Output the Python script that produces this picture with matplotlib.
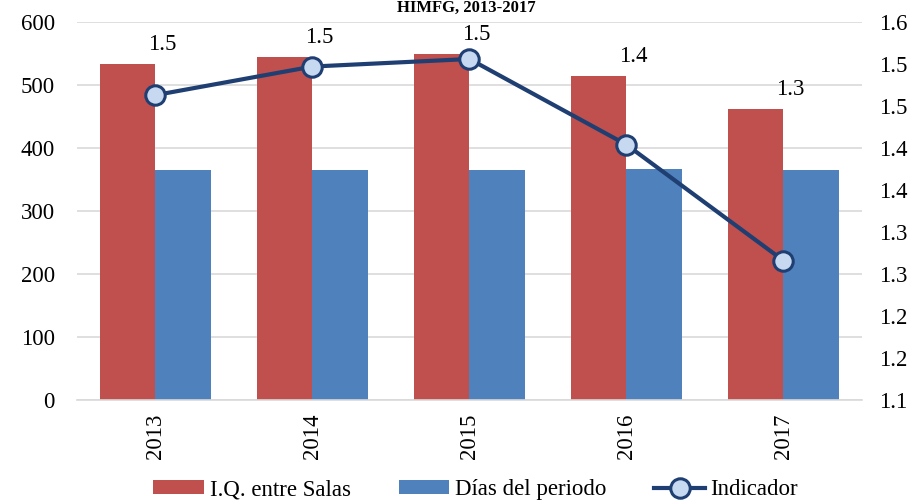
import matplotlib.pyplot as plt
import numpy as np

plt.rcParams['font.family'] = ['Liberation Serif', 'DejaVu Serif']

years = ['2013', '2014', '2015', '2016', '2017']
iq_salas = [533, 545, 549, 514, 462]
dias = [365, 365, 365, 366, 365]
indicador = [1.463, 1.497, 1.506, 1.404, 1.266]
labels = ['1.5', '1.5', '1.5', '1.4', '1.3']

red = '#C0504D'
blue = '#4F81BD'
navy = '#1F3F73'
grid = '#D9D9D9'
fs = 16.5


def solve():
    fig = plt.figure(figsize=(9.15, 5.01), dpi=100)
    ax = fig.add_axes([0.084, 0.2016, 0.858, 0.7544])
    x = np.arange(len(years))
    w = 0.355

    # bars
    b1 = ax.bar(x - w / 2, iq_salas, w, color=red, label='I.Q. entre Salas', zorder=2)
    b2 = ax.bar(x + w / 2, dias, w, color=blue, label='Días del periodo', zorder=2)
    ax.set_ylim(0, 600)
    ax.set_yticks(range(0, 601, 100))
    ax.set_xlim(-0.5, len(years) - 0.5)
    ax.set_xticks(x)
    ax.set_xticklabels(years, rotation=90)
    ax.yaxis.grid(True, color=grid, linewidth=1.2, zorder=0)
    for s in ['top', 'left', 'right']:
        ax.spines[s].set_visible(False)
    ax.spines['bottom'].set_color(grid)
    ax.spines['bottom'].set_linewidth(1.2)
    ax.tick_params(length=0, labelsize=fs, pad=16)
    ax.tick_params(axis='x', pad=10)

    # indicator on secondary axis
    ax2 = ax.twinx()
    ln, = ax2.plot(x, indicador, color=navy, linewidth=3, marker='o', markersize=14,
                   markerfacecolor='#C6D9F0', markeredgecolor=navy, markeredgewidth=2.2,
                   label='Indicador', zorder=3)
    ax2.set_ylim(1.1, 1.55)
    ticks = np.linspace(1.1, 1.55, 10)
    ax2.set_yticks(ticks)
    ax2.set_yticklabels(['1.1', '1.2', '1.2', '1.3', '1.3', '1.4', '1.4', '1.5', '1.5', '1.6'])
    for s in ax2.spines.values():
        s.set_visible(False)
    ax2.tick_params(length=0, labelsize=fs, pad=12)

    # data labels
    for i, t in enumerate(labels):
        ax.annotate(t, (x[i], iq_salas[i]), xytext=(7, 9), textcoords='offset pixels',
                    ha='center', va='bottom', fontsize=fs)

    # title (at the very top, as in the source)
    fig.text(0.51, 1.0, 'HIMFG, 2013-2017', ha='center', va='top',
             fontsize=12, fontweight='bold')

    fig.legend(handles=[b1, b2, ln], loc='lower center', bbox_to_anchor=(0.52, -0.04),
               ncol=3, frameon=False, fontsize=fs, handlelength=2.2, handleheight=0.55,
               handletextpad=0.25, columnspacing=2.1)

    fig.savefig('out.png', dpi=100)


if __name__ == "__main__":
    solve()
